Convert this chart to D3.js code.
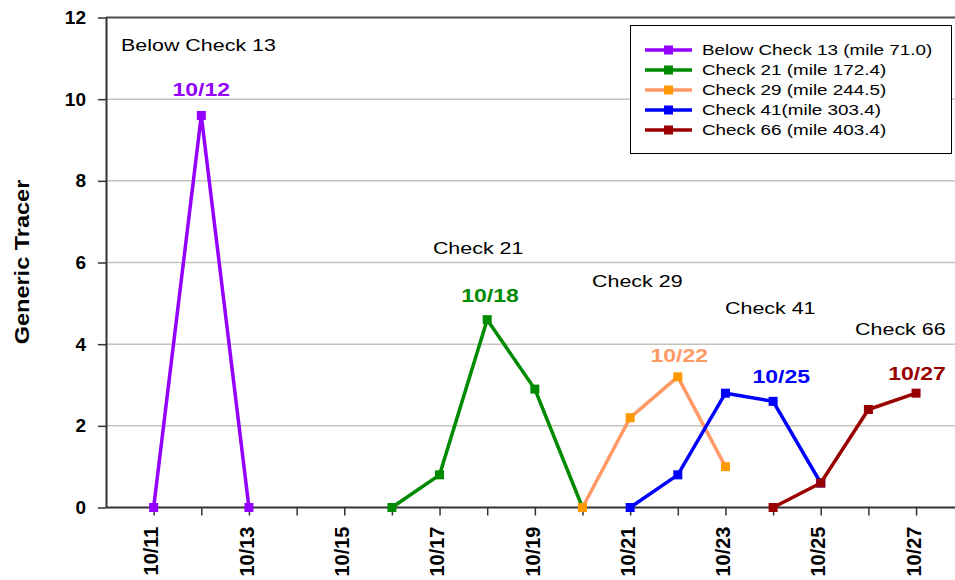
<!DOCTYPE html>
<html><head><meta charset="utf-8">
<script src="https://cdn.jsdelivr.net/npm/d3@7"></script>
<style>body{margin:0;background:#fff;overflow:hidden}text{font-family:"Liberation Sans",Arial,sans-serif}</style>
</head><body>
<script>
const seriesNames = ["Below Check 13 (mile 71.0)","Check 21 (mile 172.4)","Check 29 (mile 244.5)","Check 41(mile 303.4)","Check 66 (mile 403.4)"];
const lineColors = ["#9400FF","#008A00","#FF9966","#0000FF","#990000"];
const markerColors = ["#9400FF","#008A00","#FF9900","#0000FF","#990000"];
const belowCheck13 = [[11,0],[12,9.6],[13,0]];
const check21 = [[16,0],[17,0.8],[18,4.6],[19,2.9],[20,0]];
const check29 = [[20,0],[21,2.2],[22,3.2],[23,1.0]];
const check41 = [[21,0],[22,0.8],[23,2.8],[24,2.6],[25,0.6]];
const check66 = [[24,0],[25,0.6],[26,2.4],[27,2.8]];
const seriesData = [belowCheck13, check21, check29, check41, check66];
const yTicks = [0,2,4,6,8,10,12];
const xTicks = [11,12,13,14,15,16,17,18,19,20,21,22,23,24,25,26,27];
const xLabels = [11,13,15,17,19,21,23,25,27];
const peakLabels = [{t:"10/12",x:12.0,y:10.24,s:0},{t:"10/18",x:18.06,y:5.18,s:1},{t:"10/22",x:22.03,y:3.71,s:2},{t:"10/25",x:24.17,y:3.2,s:3},{t:"10/27",x:27.02,y:3.29,s:4}];
const siteLabels = [{t:"Below Check 13",x:10.315,y:11.33},{t:"Check 21",x:16.86,y:6.36},{t:"Check 29",x:20.2,y:5.55},{t:"Check 41",x:22.99,y:4.89},{t:"Check 66",x:25.72,y:4.37}];

const W=955,H=580;
const SX=1.3;
const svg=d3.select("body").append("svg").attr("width",W).attr("height",H);
const x=d3.scaleLinear().domain([10,28]).range([106,106+18*47.65]);
const y=d3.scaleLinear().domain([0,12]).range([507.5,17.5]);

// gridlines
svg.append("g").selectAll("line").data(yTicks.filter(d=>d>0&&d<12)).join("line")
 .attr("x1",106).attr("x2",W).attr("y1",d=>y(d)).attr("y2",d=>y(d))
 .attr("stroke","#C4C4B8").attr("stroke-width",1.5);
svg.append("line").attr("x1",106).attr("x2",W).attr("y1",y(12)).attr("y2",y(12)).attr("stroke","#4a4a4a").attr("stroke-width",2);

// y axis
const ya=svg.append("g").attr("transform","translate(106,0)")
 .call(d3.axisLeft(y).tickValues(yTicks).tickSize(8).tickSizeOuter(0).tickPadding(12));
ya.select(".domain").attr("stroke","#333").attr("stroke-width",2);
ya.selectAll(".tick line").attr("stroke","#333").attr("stroke-width",1.5);
ya.selectAll("text").attr("font-size",19).attr("font-weight","bold").attr("fill","#000");

// x axis
const xa=svg.append("g").attr("transform",`translate(0,${y(0)})`)
 .call(d3.axisBottom(x).tickValues(xTicks).tickSize(8).tickSizeOuter(0).tickFormat(d=>xLabels.includes(d)?"10/"+d:""));
xa.select(".domain").attr("d",`M106,0H${W}`).attr("stroke","#333").attr("stroke-width",2);
xa.selectAll(".tick line").attr("stroke","#333").attr("stroke-width",1.5);
xa.selectAll("text").attr("font-size",20).attr("font-weight","bold").attr("fill","#000")
 .attr("transform",`translate(-3,19) rotate(-90)`).attr("text-anchor","end").attr("x",0).attr("y",0).attr("dy","0.36em");

// lines
const line=d3.line().x(d=>x(d[0])).y(d=>y(d[1]));
seriesData.forEach((s,i)=>{
  svg.append("path").datum(s).attr("d",line).attr("fill","none").attr("stroke",lineColors[i]).attr("stroke-width",3.5).attr("stroke-linejoin","miter");
  svg.append("g").selectAll("rect").data(s).join("rect")
   .attr("x",d=>x(d[0])-4.5).attr("y",d=>y(d[1])-4.5).attr("width",9).attr("height",9).attr("fill",markerColors[i]);
});

// peak labels
svg.append("g").selectAll("text").data(peakLabels).join("text")
 .attr("transform",d=>`translate(${x(d.x)},${y(d.y)}) scale(1.28,1)`).attr("dy","0.36em").attr("text-anchor","middle")
 .attr("font-size",18).attr("font-weight","bold").attr("fill",d=>lineColors[d.s]).text(d=>d.t);

// site labels
svg.append("g").selectAll("text").data(siteLabels).join("text")
 .attr("transform",d=>`translate(${x(d.x)},${y(d.y)}) scale(${SX},1)`).attr("dy","0.35em")
 .attr("font-size",16.5).attr("fill","#000").text(d=>d.t);

// y title
svg.append("text").attr("transform","translate(22,262) rotate(-90) scale(1.12,1)").attr("text-anchor","middle").attr("dy","0.35em")
 .attr("font-size",21).attr("font-weight","bold").text("Generic Tracer");

// legend
const lg=svg.append("g");
lg.append("rect").attr("x",630.5).attr("y",25.5).attr("width",321).attr("height",128).attr("fill","#fff").attr("stroke","#000").attr("stroke-width",1);
seriesNames.forEach((n,i)=>{
  const yy=50+i*20;
  lg.append("line").attr("x1",645).attr("x2",692).attr("y1",yy).attr("y2",yy).attr("stroke",lineColors[i]).attr("stroke-width",3.5);
  lg.append("rect").attr("x",668.5-4.5).attr("y",yy-4.5).attr("width",9).attr("height",9).attr("fill",markerColors[i]);
  lg.append("text").attr("transform",`translate(702,${yy}) scale(${SX},1)`).attr("dy","0.35em").attr("font-size",14.5).attr("fill","#000").text(n);
});
</script>
</body></html>
